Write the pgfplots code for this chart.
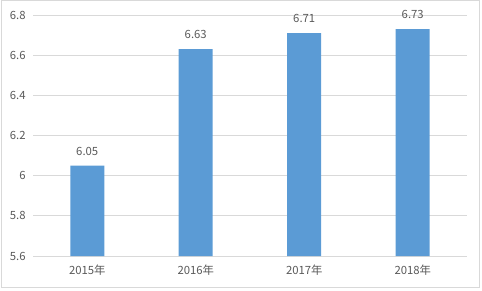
\documentclass[border=0pt]{standalone}
\usepackage{fontspec}
\setmainfont{Noto Sans CJK SC}
\usepackage{pgfplots}
\pgfplotsset{compat=1.18}
\definecolor{barblue}{HTML}{5B9BD5}
\definecolor{gridgray}{HTML}{D9D9D9}
\definecolor{textgray}{HTML}{595959}
\begin{document}
\begin{tikzpicture}[x=0.75pt,y=0.75pt]
\path (0,0) rectangle (482,290);
\draw[gridgray,line width=0.75pt] (1,2.5) rectangle (479.5,289.5);
\begin{axis}[
  at={(24.75pt,25.5pt)}, anchor=south west,
  scale only axis, width=325.5pt, height=180.75pt,
  ymin=5.6, ymax=6.8, ytick={5.6,5.8,6,6.2,6.4,6.6,6.8},
  yticklabels={5.6,5.8,6,6.2,6.4,6.6,6.8},
  xmin=-0.5, xmax=3.5, xtick={0,1,2,3},
  xticklabels={2015年,2016年,2017年,2018年},
  axis line style={draw=none},
  major tick length=0pt,
  ymajorgrids, grid style={gridgray,line width=0.75pt},
  tick label style={font=\fontsize{8.5}{10}\selectfont, text=textgray},
  yticklabel style={xshift=-2pt},
  xticklabel style={yshift=-3pt},
  clip=false,
  point meta=explicit symbolic,
  nodes near coords,
  every node near coord/.append style={font=\fontsize{8.5}{10}\selectfont, text=textgray, yshift=4pt},
]
\addplot[ybar, bar width=25.5pt, fill=barblue, draw=none] coordinates {
  (0,6.05) [6.05]
  (1,6.63) [6.63]
  (2,6.71) [6.71]
  (3,6.73) [6.73]
};
\end{axis}
\end{tikzpicture}
\end{document}
